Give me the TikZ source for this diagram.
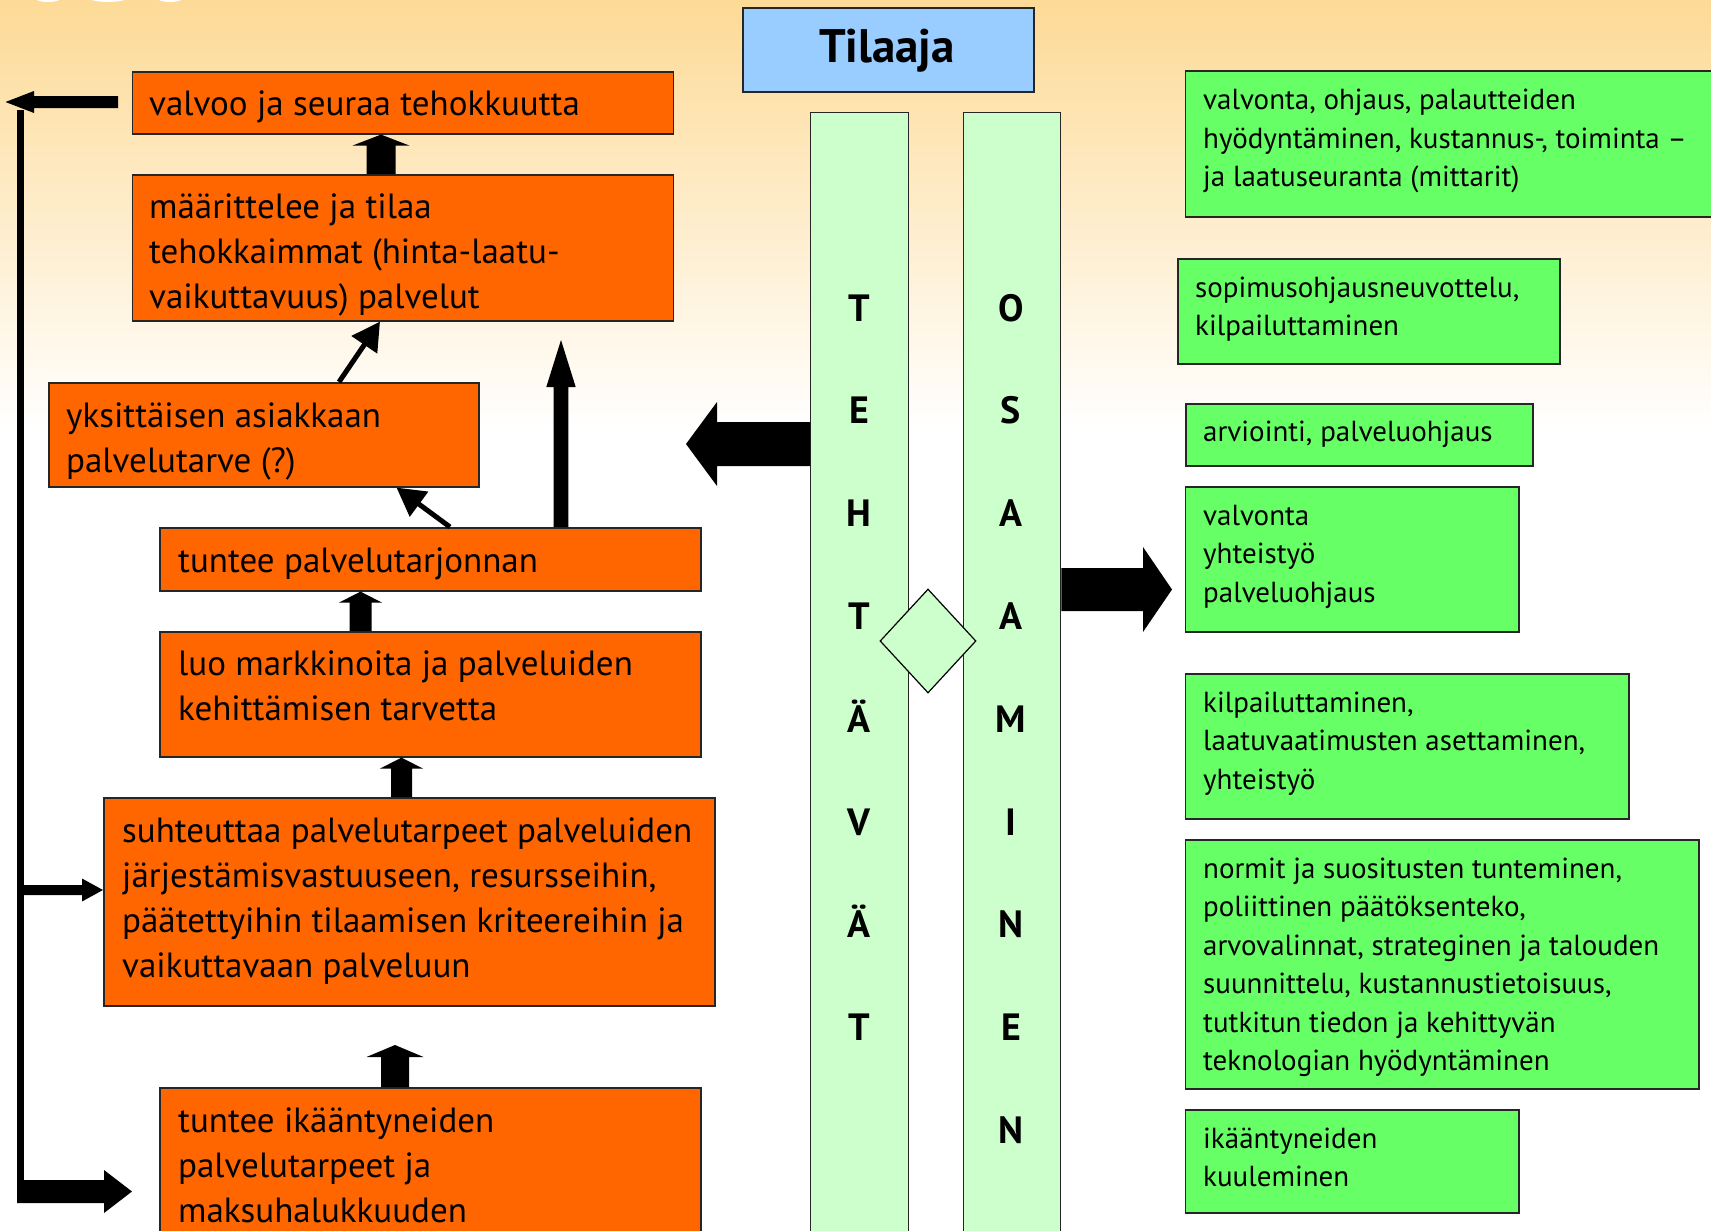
\documentclass[tikz,border=0pt]{standalone}
\usepackage{fontspec}
\setmainfont{PT Sans}
\usetikzlibrary{calc,arrows.meta,shapes.geometric}
\definecolor{obox}{HTML}{FF6600}
\definecolor{gbox}{HTML}{66FF66}
\definecolor{lgreen}{HTML}{CCFFCC}
\definecolor{bbox}{HTML}{99CCFF}
\definecolor{bgtop}{RGB}{253,218,150}
% block arrows: #1 source anchor, #2 tip coordinate, #3 shaft half width, #4 head half width, #5 head length
\newcommand\blkup[5]{\fill[blk] let \p1=(#1), \p2=(#2) in
  (\x2-#3,\y1) -- (\x2-#3,\y2-#5) -- (\x2-#4,\y2-#5) -- (\x2,\y2) -- (\x2+#4,\y2-#5) -- (\x2+#3,\y2-#5) -- (\x2+#3,\y1) -- cycle;}
\newcommand\blkright[5]{\fill[blk] let \p1=(#1), \p2=(#2) in
  (\x1,\y2+#3) -- (\x2-#5,\y2+#3) -- (\x2-#5,\y2+#4) -- (\x2,\y2) -- (\x2-#5,\y2-#4) -- (\x2-#5,\y2-#3) -- (\x1,\y2-#3) -- cycle;}
\newcommand\blkleft[5]{\fill[blk] let \p1=(#1), \p2=(#2) in
  (\x1,\y2+#3) -- (\x2+#5,\y2+#3) -- (\x2+#5,\y2+#4) -- (\x2,\y2) -- (\x2+#5,\y2-#4) -- (\x2+#5,\y2-#3) -- (\x1,\y2-#3) -- cycle;}
\begin{document}
\begin{tikzpicture}[x=1pt,y=-1pt,
  box/.style={draw=black!85,line width=1.6pt,rectangle,inner sep=0pt,anchor=north west},
  orangebox/.style={box,fill=obox},
  greenbox/.style={box,fill=gbox},
  colbox/.style={box,fill=lgreen,line width=1.3pt},
  otext/.style={anchor=base west,inner sep=0pt,font=\fontsize{35}{45}\selectfont},
  gtext/.style={anchor=base west,inner sep=0pt,font=\fontsize{29}{38.5}\selectfont},
  letter/.style={anchor=base,inner sep=0pt,font=\fontsize{38}{38}\selectfont\bfseries},
  blk/.style={fill=black},
  thinarrow/.style={line width=5pt,-{Triangle[length=28pt,width=30pt]}}]
\useasboundingbox (0,0) rectangle (1711,1231);
% background
\fill[white] (0,0) rectangle (1711,1231);
\shade[top color=bgtop,bottom color=white] (0,0) rectangle (1711,430);
\fill[white] (48,-4) ellipse (15 and 6);
\fill[white] (108,-4) ellipse (22 and 6);
\fill[white] (170,-4) ellipse (15 and 6);

% Tilaaja
\node[box,fill=bbox,minimum width=291pt,minimum height=84pt] (tilaaja) at (742,7) {};
\node[anchor=base,inner sep=0pt,font=\fontsize{47}{47}\selectfont\bfseries] (tilaajat) at (887,63) {Tilaaja};

% columns
\node[colbox,minimum width=98pt,minimum height=1140pt] (colT) at (810,112) {};
\node[colbox,minimum width=97pt,minimum height=1140pt] (colO) at (963,112) {};
\foreach \l [count=\i] in {T,E,H,T,Ä,V,Ä,T}
  \node[letter] (tl\i) at (859,{321+102.8*(\i-1)}) {\l};
\foreach \l [count=\i] in {O,S,A,A,M,I,N,E,N}
  \node[letter] (ol\i) at (1011,{321+102.8*(\i-1)}) {\l};
\node[diamond,draw=black,line width=1.2pt,fill=lgreen,inner sep=0pt,minimum width=96pt,minimum height=104pt] (dia) at (928,641) {};

% orange boxes
\node[orangebox,minimum width=541pt,minimum height=62pt] (b1) at (131.5,71) {};
\node[orangebox,minimum width=541pt,minimum height=146pt] (b2) at (131.5,174) {};
\node[orangebox,minimum width=430pt,minimum height=104pt] (b3) at (48,382) {};
\node[orangebox,minimum width=541pt,minimum height=63pt] (b4) at (159,527) {};
\node[orangebox,minimum width=541pt,minimum height=125pt] (b5) at (159,631) {};
\node[orangebox,minimum width=611pt,minimum height=208pt] (b6) at (103,797) {};
\node[orangebox,minimum width=541pt,minimum height=200pt] (b7) at (159,1087) {};

\node[otext] (t1) at (149,115) {valvoo ja seuraa tehokkuutta};
\node[otext] (t2) at (149,218) {\parbox[t]{520pt}{\raggedright määrittelee ja tilaa\\tehokkaimmat (hinta-laatu-\\vaikuttavuus) palvelut}};
\node[otext] (t3) at (66,427) {\parbox[t]{420pt}{\raggedright yksittäisen asiakkaan\\palvelutarve (?)}};
\node[otext] (t4) at (178,572) {tuntee palvelutarjonnan};
\node[otext] (t5) at (178,675) {\parbox[t]{520pt}{\raggedright luo markkinoita ja palveluiden\\kehittämisen tarvetta}};
\node[otext] (t6) at (122,842) {\parbox[t]{600pt}{\raggedright suhteuttaa palvelutarpeet palveluiden\\järjestämisvastuuseen, resursseihin,\\päätettyihin tilaamisen kriteereihin ja\\vaikuttavaan palveluun}};
\node[otext] (t7) at (178,1132) {\parbox[t]{520pt}{\raggedright tuntee ikääntyneiden\\palvelutarpeet ja\\maksuhalukkuuden}};

% green boxes
\node[greenbox,minimum width=540pt,minimum height=146pt] (g1) at (1184.5,70) {};
\node[greenbox,minimum width=382pt,minimum height=105pt] (g2) at (1177,258) {};
\node[greenbox,minimum width=347pt,minimum height=62pt] (g3) at (1185,403) {};
\node[greenbox,minimum width=333.5pt,minimum height=145pt] (g4) at (1184.5,486) {};
\node[greenbox,minimum width=443.5pt,minimum height=145pt] (g5) at (1184.5,673) {};
\node[greenbox,minimum width=513.5pt,minimum height=249pt] (g6) at (1184.5,839) {};
\node[greenbox,minimum width=333.5pt,minimum height=103pt] (g7) at (1184.5,1109) {};

\node[gtext] (s1) at (1203,110) {\parbox[t]{520pt}{\raggedright valvonta, ohjaus, palautteiden\\hyödyntäminen, kustannus-, toiminta –\\ja laatuseuranta (mittarit)}};
\node[gtext] (s2) at (1195,297) {\parbox[t]{370pt}{\raggedright sopimusohjausneuvottelu,\\kilpailuttaminen}};
\node[gtext] (s3) at (1203,441) {arviointi, palveluohjaus};
\node[gtext] (s4) at (1203,525) {\parbox[t]{320pt}{\raggedright valvonta\\yhteistyö\\palveluohjaus}};
\node[gtext] (s5) at (1203,712) {\parbox[t]{430pt}{\raggedright kilpailuttaminen,\\laatuvaatimusten asettaminen,\\yhteistyö}};
\node[gtext] (s6) at (1203,878) {\parbox[t]{500pt}{\raggedright normit ja suositusten tunteminen,\\poliittinen päätöksenteko,\\arvovalinnat, strateginen ja talouden\\suunnittelu, kustannustietoisuus,\\tutkitun tiedon ja kehittyvän\\teknologian hyödyntäminen}};
\node[gtext] (s7) at (1203,1148) {\parbox[t]{320pt}{\raggedright ikääntyneiden\\kuuleminen}};

% coordinates for free arrow ends
\coordinate (a1) at (b1.south -| 381,0);
\coordinate (a2) at (b4.south -| 360.5,0);
\coordinate (a3) at (b5.south -| 401.5,0);
\coordinate (a4) at (395,1045);
\coordinate (a5) at (561,340);
\coordinate (ltip) at (686,444);
\coordinate (rtip) at (1172,589.5);
\coordinate (fbtip) at (5.5,102);
\coordinate (fbstart) at (118,102);
\coordinate (fbtop) at (20.5,110);
\coordinate (fbbot) at (20.5,1203);
\coordinate (fbmid) at (20.5,890);
\coordinate (fbend) at (17,1191.5);
\coordinate (a6tip) at (b6.west |- 0,890);
\coordinate (a7tip) at (132,1191.5);

% block arrows between boxes
\blkup{b2.north}{a1}{14.5pt}{28.5pt}{11pt}
\blkup{b5.north}{a2}{11pt}{21.5pt}{11pt}
\blkup{b6.north}{a3}{10.5pt}{21.5pt}{11pt}
\blkup{b7.north}{a4}{14pt}{28.5pt}{12pt}
\blkup{b4.north -| a5}{a5}{7.3pt}{14.7pt}{47pt}

% thin arrows
\draw[thinarrow] (b3.north -| 339,0) -- (b2.south -| 380,0);
\draw[thinarrow] (b4.north -| 450,0) -- (b3.south -| 396.5,0);

% big arrows from columns
\blkleft{colT.west}{ltip}{22pt}{42pt}{31pt}
\blkright{colO.east}{rtip}{21.5pt}{42.5pt}{29pt}

% feedback on the left
\blkleft{fbstart}{fbtip}{6pt}{11pt}{28.5pt}
\draw[line width=7pt] (fbtop) -- (fbbot);
\blkright{fbmid}{a6tip}{5pt}{11.5pt}{21pt}
\blkright{fbend}{a7tip}{11.5pt}{21.5pt}{28pt}
\end{tikzpicture}
\end{document}
